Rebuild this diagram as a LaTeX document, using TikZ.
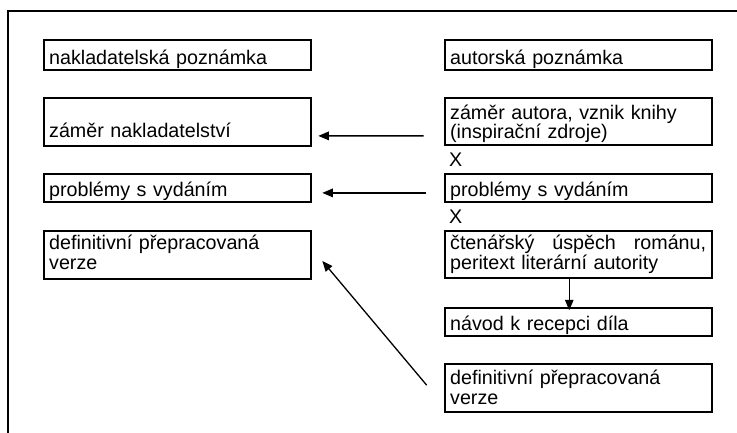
\documentclass[tikz,border=0pt]{standalone}
\usepackage{fontspec}
\setmainfont{Liberation Sans}
\usetikzlibrary{arrows.meta}
\begin{document}
\begin{tikzpicture}[x=1pt,y=-1pt,
  box/.style={draw, line width=1.9pt, anchor=north west, text width=256pt, align=left,
    inner xsep=5.5pt, inner ysep=0pt, font=\fontsize{19.7}{20}\selectfont},
  conn/.style={line width=1.3pt, -{Triangle[length=10.5pt,width=8.5pt]}},
  frameline/.style={line width=2pt},
  lbl/.style={anchor=base west, inner sep=0pt, font=\fontsize{19.7}{20}\selectfont}]
\useasboundingbox (0,0) rectangle (737,433);
\draw[frameline] (7.7,433) -- (7.7,11) -- (737,11);

% left column
\node[box, text height=24pt, text depth=5.7pt] (L1) at (42.7,39.3) {nakladatelská poznámka};
\node[box, text height=40pt, text depth=8.3pt] (L2) at (42.7,96.7) {záměr nakladatelství};
\node[box, text height=23.1pt, text depth=5.5pt] (L3) at (42.7,172.9) {problémy s vydáním};
\node[box, text height=18.3pt, text depth=29.5pt] (L4) at (42.7,230) {definitivní přepracovaná\\verze};

% right column
\node[box, text height=24pt, text depth=5.7pt] (R1) at (443.7,39.3) {autorská poznámka};
\node[box, text height=21.6pt, text depth=26pt, font=\fontsize{19.7}{18.4}\selectfont] (R2) at (443.7,96.7) {záměr autora, vznik knihy\\(inspirační zdroje)};
\node[lbl] (X1) at (449,167) {X};
\node[box, text height=23.1pt, text depth=5.5pt] (R3) at (443.7,172.9) {problémy s vydáním};
\node[lbl] (X2) at (449,224) {X};
\node[box, text height=18.3pt, text depth=29pt, font=\fontsize{19.7}{20.5}\selectfont] (R4) at (443.7,230) {čtenářský\hfill úspěch\hfill románu,\\peritext literární autority};
\node[box, text height=22.7pt, text depth=5.3pt] (R5) at (443.7,307.3) {návod k recepci díla};
\node[box, text height=20pt, text depth=27.7pt] (R6) at (443.7,363.3) {definitivní přepracovaná\\verze};

% connectors
\draw[conn] ([xshift=-20pt,yshift=10.3pt]R2.south west) -- ([xshift=6.7pt,yshift=11pt]L2.south east);
\draw[conn] ([xshift=-17.7pt,yshift=10.5pt]R3.south west) -- ([xshift=10.7pt,yshift=10.5pt]L3.south east);
\draw[conn] ([xshift=-17pt,yshift=27.7pt]R6.south west) -- ([xshift=10.7pt,yshift=18.8pt]L4.south east);
\draw[conn] ([xshift=-8.9pt]R4.south) -- ([xshift=-8.9pt,yshift=-3pt]R5.north);
\end{tikzpicture}
\end{document}
